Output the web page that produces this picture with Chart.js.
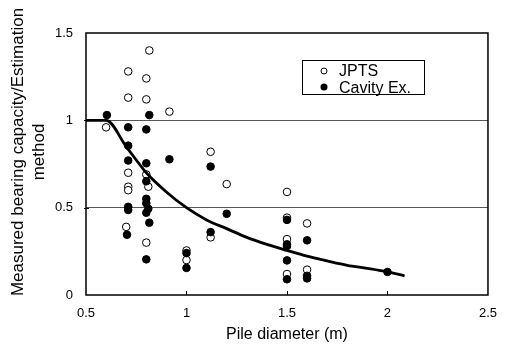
<!DOCTYPE html>
<html>
<head>
<meta charset="utf-8">
<script src="https://cdn.jsdelivr.net/npm/chart.js@4/dist/chart.umd.min.js"></script>
<style>
    html, body { margin: 0; padding: 0; background: #fff; }
    #wrap { width: 508px; height: 344px; position: relative; }
</style>
</head>
<body>
<div id="wrap"><canvas id="chart"></canvas></div>
<script>
// JPTS (open circles)
const jptsX = [0.60, 0.71, 0.71, 0.71, 0.71, 0.71, 0.70, 0.80, 0.80, 0.815, 0.80, 0.81, 0.80,
    0.915, 1.00, 1.00, 1.12, 1.12, 1.20, 1.50, 1.50, 1.50, 1.50, 1.60, 1.60];
const jptsY = [0.96, 1.28, 1.13, 0.70, 0.62, 0.60, 0.39, 1.24, 1.12, 1.40, 0.69, 0.62, 0.30,
    1.05, 0.255, 0.20, 0.82, 0.33, 0.635, 0.59, 0.443, 0.32, 0.12, 0.41, 0.145];

// Cavity Ex. (filled circles)
const cavX = [0.604, 0.71, 0.71, 0.71, 0.71, 0.71, 0.704, 0.815, 0.80, 0.80, 0.80, 0.80, 0.80, 0.81, 0.80, 0.815, 0.80,
    0.915, 1.00, 1.00, 1.12, 1.12, 1.20, 1.50, 1.50, 1.50, 1.50, 1.50, 1.60, 1.60, 1.60, 2.00];
const cavY = [1.03, 0.96, 0.855, 0.77, 0.505, 0.487, 0.345, 1.03, 0.948, 0.754, 0.651, 0.551, 0.525, 0.494, 0.471, 0.414, 0.204,
    0.777, 0.24, 0.155, 0.735, 0.36, 0.465, 0.43, 0.29, 0.28, 0.198, 0.09, 0.313, 0.11, 0.095, 0.132];

// estimation curve
const curveX = [0.5, 0.6, 0.7, 0.8, 0.9, 1.0, 1.1, 1.2, 1.3, 1.4, 1.5, 1.6, 1.7, 1.8, 1.9, 2.0, 2.085];
const curveY = [1.0, 1.0, 0.85, 0.70, 0.59, 0.50, 0.43, 0.38, 0.33, 0.29, 0.255, 0.222, 0.195, 0.17, 0.152, 0.132, 0.11];

const xTicks = [0.5, 1, 1.5, 2, 2.5];
const yTicks = [0, 0.5, 1, 1.5];
const gridValues = [0.5, 1];

const legendItems = ['JPTS', 'Cavity Ex.'];
const xTitle = 'Pile diameter (m)';
const yTitle = ['Measured bearing capacity/Estimation', 'method'];

const font = "'Liberation Sans', Arial, sans-serif";
const toPoints = (xs, ys) => xs.map((x, i) => ({ x: x, y: ys[i] }));
const fmt = v => String(Math.round(v * 100) / 100);

// frame, inside ticks, y title, legend box
const decor = {
    id: 'decor',
    afterDraw(chart) {
        const { ctx, chartArea: a, scales } = chart;
        ctx.save();
        ctx.strokeStyle = '#000';
        ctx.lineWidth = 1.5;
        ctx.strokeRect(a.left, a.top, a.right - a.left, a.bottom - a.top);

        ctx.lineWidth = 1;
        ctx.beginPath();
        xTicks.slice(1, -1).forEach(v => {
            const px = Math.round(scales.x.getPixelForValue(v)) + 0.5;
            ctx.moveTo(px, a.bottom);
            ctx.lineTo(px, a.bottom - 4);
        });
        gridValues.forEach(v => {
            const py = Math.round(scales.y.getPixelForValue(v)) + 0.5;
            ctx.moveTo(a.left - 2, py);
            ctx.lineTo(a.left + 3, py);
        });
        ctx.stroke();

        // y title, two lines
        ctx.fillStyle = '#000';
        ctx.font = '17px ' + font;
        ctx.textAlign = 'center';
        ctx.textBaseline = 'middle';
        ctx.translate(18, 152);
        ctx.rotate(-Math.PI / 2);
        ctx.fillText(yTitle[0], 0, 0);
        ctx.fillText(yTitle[1], 0, 21);
        ctx.setTransform(1, 0, 0, 1, 0, 0);

        // legend
        ctx.lineWidth = 1;
        ctx.strokeRect(302.5, 60.5, 122, 34);
        ctx.beginPath();
        ctx.arc(324, 71, 3, 0, Math.PI * 2);
        ctx.fillStyle = '#fff';
        ctx.fill();
        ctx.stroke();
        ctx.beginPath();
        ctx.arc(324, 87, 3.5, 0, Math.PI * 2);
        ctx.fillStyle = '#000';
        ctx.fill();
        ctx.font = '16px ' + font;
        ctx.textAlign = 'left';
        ctx.textBaseline = 'alphabetic';
        ctx.fillText(legendItems[0], 339, 76);
        ctx.fillText(legendItems[1], 339, 93);
        ctx.restore();
    }
};

new Chart(document.getElementById('chart'), {
    type: 'scatter',
    data: {
        datasets: [
            {
                label: 'curve',
                data: toPoints(curveX, curveY),
                showLine: true,
                borderColor: '#000',
                borderWidth: 2.8,
                pointRadius: 0,
                cubicInterpolationMode: 'monotone'
            },
            {
                label: legendItems[1],
                data: toPoints(cavX, cavY),
                backgroundColor: '#000',
                borderColor: '#000',
                borderWidth: 1,
                pointRadius: 3.8
            },
            {
                label: legendItems[0],
                data: toPoints(jptsX, jptsY),
                backgroundColor: '#fff',
                borderColor: '#000',
                borderWidth: 1,
                pointRadius: 3.8
            }
        ]
    },
    options: {
        responsive: true,
        maintainAspectRatio: false,
        animation: false,
        events: [],
        layout: { padding: { top: 33, right: 11, left: 0, bottom: 0 } },
        plugins: { legend: { display: false }, tooltip: { enabled: false } },
        scales: {
            x: {
                type: 'linear',
                min: 0.5,
                max: 2.5,
                afterFit: s => { s.height = 49; },
                afterBuildTicks: s => { s.ticks = xTicks.map(v => ({ value: v })); },
                grid: { display: false, drawTicks: false },
                border: { display: false },
                ticks: { color: '#000', font: { family: font, size: 13 }, padding: 11, maxRotation: 0, callback: fmt },
                title: { display: true, text: xTitle, color: '#000', font: { family: font, size: 16 }, padding: { top: 4, bottom: 0 } }
            },
            y: {
                type: 'linear',
                min: 0,
                max: 1.5,
                afterFit: s => { s.width = 86; },
                afterBuildTicks: s => { s.ticks = yTicks.map(v => ({ value: v })); },
                grid: {
                    drawTicks: false,
                    lineWidth: 1,
                    color: c => gridValues.includes(c.tick.value) ? '#555' : 'rgba(0,0,0,0)'
                },
                border: { display: false },
                ticks: { color: '#000', font: { family: font, size: 13 }, padding: 13, callback: fmt }
            }
        }
    },
    plugins: [decor]
});
</script>
</body>
</html>
